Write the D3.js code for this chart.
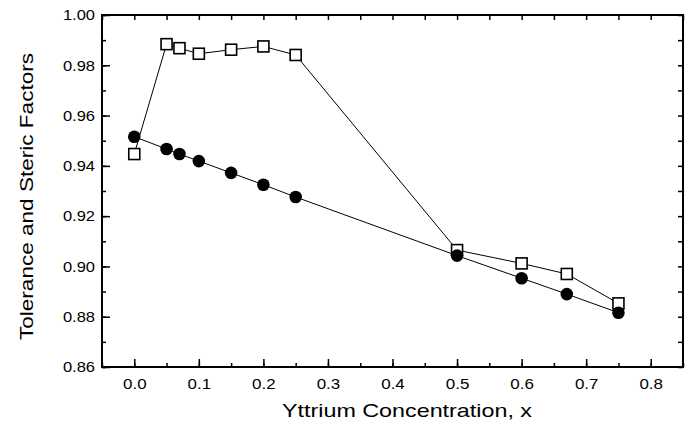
<!DOCTYPE html>
<html>
<head>
<meta charset="utf-8">
<script src="https://cdn.jsdelivr.net/npm/d3@7"></script>
<style>
  body { margin: 0; background: #fff; }
  svg { display: block; }
  text { font-family: "Liberation Sans", Arial, sans-serif; fill: #000; }
</style>
</head>
<body>
<div id="chart"></div>
<script>
// Données
const xValues = [0.0, 0.05, 0.07, 0.10, 0.15, 0.20, 0.25, 0.50, 0.60, 0.67, 0.75];
const toleranceSquares = [0.9447, 0.9884, 0.9868, 0.9846, 0.9862, 0.9875, 0.9841, 0.9065, 0.9012, 0.8970, 0.8853];
const stericCircles = [0.9516, 0.9467, 0.9447, 0.9419, 0.9372, 0.9325, 0.9276, 0.9043, 0.8953, 0.8890, 0.8816];
const xTicks = [0.0, 0.1, 0.2, 0.3, 0.4, 0.5, 0.6, 0.7, 0.8];
const yTicks = [0.86, 0.88, 0.90, 0.92, 0.94, 0.96, 0.98, 1.00];

const width = 691, height = 426;
const margin = { top: 15, right: 8, bottom: 59, left: 102 };
const w = width - margin.left - margin.right;
const h = height - margin.top - margin.bottom;

const svg = d3.select("#chart").append("svg")
    .attr("width", width).attr("height", height);
const g = svg.append("g").attr("transform", `translate(${margin.left},${margin.top})`);

const x = d3.scaleLinear().domain([-0.05, 0.85]).range([0, w]);
const y = d3.scaleLinear().domain([0.86, 1.00]).range([h, 0]);

const xMinor = d3.range(-0.05, 0.851, 0.05).map(v => +v.toFixed(2));
const yMinor = d3.range(0.86, 1.0001, 0.01).map(v => +v.toFixed(2));

// La police de la figure est plus large : on étire légèrement les libellés
function widen(sel, factor) {
    sel.each(function () {
        const len = this.getComputedTextLength();
        d3.select(this).attr("textLength", len * factor).attr("lengthAdjust", "spacingAndGlyphs");
    });
}

// Axes bas / gauche (ticks vers l'intérieur)
g.append("g").attr("transform", `translate(0,${h})`)
    .call(d3.axisBottom(x).tickValues(xMinor).tickSize(-4).tickFormat(""))
    .call(a => a.select(".domain").remove());
g.append("g").attr("transform", `translate(0,${h})`)
    .call(d3.axisBottom(x).tickValues(xTicks).tickSize(-8).tickPadding(11).tickFormat(d3.format(".1f")))
    .call(a => a.select(".domain").remove())
    .call(a => a.selectAll("text").style("font-size", "15px").call(widen, 1.13));

g.append("g")
    .call(d3.axisLeft(y).tickValues(yMinor).tickSize(-4).tickFormat(""))
    .call(a => a.select(".domain").remove());
g.append("g")
    .call(d3.axisLeft(y).tickValues(yTicks).tickSize(-8).tickPadding(7).tickFormat(d3.format(".2f")))
    .call(a => a.select(".domain").remove())
    .call(a => a.selectAll("text").style("font-size", "15px").call(widen, 1.1));

// Axes haut / droite
g.append("g")
    .call(d3.axisTop(x).tickValues(xMinor).tickSize(-5).tickFormat(""))
    .call(a => a.select(".domain").remove());
g.append("g").attr("transform", `translate(${w},0)`)
    .call(d3.axisRight(y).tickValues(yMinor).tickSize(-5).tickFormat(""))
    .call(a => a.select(".domain").remove());

g.selectAll(".tick line").attr("stroke", "#000").attr("stroke-width", 1.5);

// Cadre
g.append("rect").attr("width", w).attr("height", h)
    .attr("fill", "none").attr("stroke", "#000").attr("stroke-width", 2);

// Séries
const squares = xValues.map((v, i) => ({ x: v, y: toleranceSquares[i] }));
const circles = xValues.map((v, i) => ({ x: v, y: stericCircles[i] }));
const line = d3.line().x(d => x(d.x)).y(d => y(d.y));

g.append("path").datum(circles).attr("d", line)
    .attr("fill", "none").attr("stroke", "#000").attr("stroke-width", 1);
g.append("path").datum(squares).attr("d", line)
    .attr("fill", "none").attr("stroke", "#000").attr("stroke-width", 1);

g.selectAll(".sq").data(squares).enter().append("rect")
    .attr("x", d => x(d.x) - 5.5).attr("y", d => y(d.y) - 5.5)
    .attr("width", 11).attr("height", 11)
    .attr("fill", "#fff").attr("stroke", "#000").attr("stroke-width", 1.6);

g.selectAll(".ci").data(circles).enter().append("circle")
    .attr("cx", d => x(d.x)).attr("cy", d => y(d.y))
    .attr("r", 6.3).attr("fill", "#000");

// Titres des axes
svg.append("text")
    .attr("x", 407).attr("y", 417)
    .attr("text-anchor", "middle").style("font-size", "19px")
    .attr("textLength", 250).attr("lengthAdjust", "spacingAndGlyphs")
    .text("Yttrium Concentration, x");

svg.append("text")
    .attr("transform", "translate(33,196.5) rotate(-90)")
    .attr("text-anchor", "middle").style("font-size", "19px")
    .attr("textLength", 287).attr("lengthAdjust", "spacingAndGlyphs")
    .text("Tolerance and Steric Factors");
</script>
</body>
</html>
